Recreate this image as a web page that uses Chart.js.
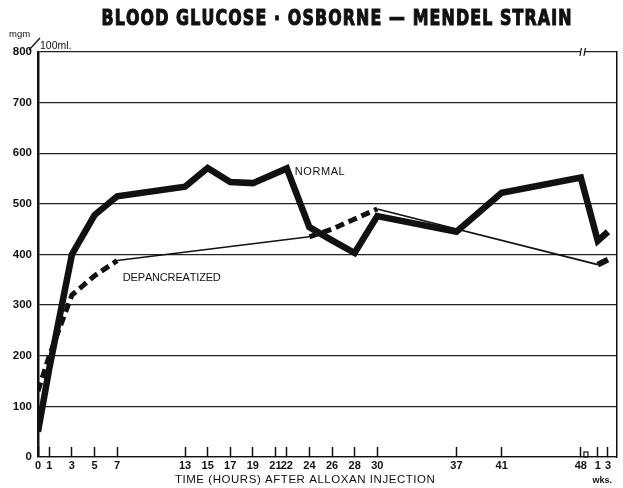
<!DOCTYPE html>
<html><head><meta charset="utf-8">
<script src="https://cdn.jsdelivr.net/npm/chart.js@4.4.1/dist/chart.umd.min.js"></script>
<style>html,body{margin:0;padding:0;background:#fff}#wrap{width:623px;height:488px}</style>
</head><body><div id="wrap"><canvas id="c" width="623" height="488"></canvas></div>
<script>
// ---------------- data ----------------
const chartTitle = 'BLOOD GLUCOSE · OSBORNE — MENDEL STRAIN';
const xAxisTitle = 'TIME (HOURS) AFTER ALLOXAN INJECTION';
const yUnitTop = 'mgm';
const yUnitBottom = '100ml.';
const weeksLabel = 'wks.';
const seriesNames = ['NORMAL', 'DEPANCREATIZED'];

const xTickLabels = ['0','1','3','5','7','13','15','17','19','21','22','24','26','28','30','37','41','48','1 wk','3 wk'];
const yTickValues = [0,100,200,300,400,500,600,700,800];

const normalTimes  = ['0','1','3','5','7','13','15','17','19','22','24','26','28','30','37','41','48','1 wk','3 wk'];
const normalValues = [50,175,400,478,515,534,571,543,541,570,454,428,403,476,445,522,552,427,445];

const depTimes  = ['0','1','3','5','7','24','26','28','30','1 wk','3 wk'];
const depValues = [130,200,320,358,388,435,450,470,490,380,390];

// ---------------- axis mapping (hours, then weeks after the axis break) ----------------
const WEEK_POS = {'1 wk': 49.5, '3 wk': 50.4};
const X_MAX = 51.2;
function axisPos(t){ return (t in WEEK_POS) ? WEEK_POS[t] : Number(t); }
function toPoints(times, values){ return times.map((t,i)=>({x: axisPos(t), y: values[i]})); }

// depancreatized line style per segment
const depSegmentKind = ['dash','dash','dash','dash','thin','dash','dash','dash','thin','solid'];
const segWidth = {dash: 5, thin: 1.6, solid: 6};

const INK = '#111';

function spacedText(ctx, text, cx, cy, targetW, sx, strokeW){
  const chars = [...text];
  const ws = chars.map(c => ctx.measureText(c).width * sx);
  const nat = ws.reduce((a,b)=>a+b,0);
  const extra = chars.length > 1 ? (targetW - nat)/(chars.length-1) : 0;
  let x = cx - targetW/2;
  ctx.textAlign = 'left';
  chars.forEach((c,i)=>{
    ctx.save(); ctx.translate(x, cy); ctx.scale(sx,1);
    ctx.fillText(c,0,0);
    if (strokeW) { ctx.lineWidth = strokeW; ctx.strokeText(c,0,0); }
    ctx.restore();
    x += ws[i] + extra;
  });
}

const decor = {
  id: 'decor',
  afterDraw(chart){
    const ctx = chart.ctx, xs = chart.scales.x, ys = chart.scales.y;
    ctx.save();
    ctx.fillStyle = INK; ctx.strokeStyle = INK; ctx.textBaseline = 'middle';
    // title
    ctx.font = '900 22px "DejaVu Sans"';
    spacedText(ctx, chartTitle, xs.getPixelForValue(26.4), 19, 470, 0.72, 1.2);
    // x axis title
    ctx.font = '11.5px "Liberation Sans"';
    spacedText(ctx, xAxisTitle, xs.getPixelForValue(23.6), 480, 260, 1);
    // wks.
    ctx.font = 'bold 9px "Liberation Sans"';
    ctx.textAlign = 'center';
    ctx.fillText(weeksLabel, xs.getPixelForValue(49.9), 481);
    // y unit
    const top = ys.getPixelForValue(800);
    ctx.font = '9.5px "Liberation Sans"';
    ctx.textAlign = 'left';
    ctx.fillText(yUnitTop, 9, top - 18);
    ctx.font = '10.5px "Liberation Sans"';
    ctx.fillText(yUnitBottom, 40, top - 6);
    ctx.lineWidth = 1.3;
    ctx.beginPath(); ctx.moveTo(29, top - 2); ctx.lineTo(40, top - 14); ctx.stroke();
    // series labels
    ctx.font = '11px "Liberation Sans"';
    spacedText(ctx, seriesNames[0], xs.getPixelForValue(22.7) + 25, ys.getPixelForValue(563), 50, 1);
    spacedText(ctx, seriesNames[1], xs.getPixelForValue(7.5) + 49, ys.getPixelForValue(354), 98, 1);
    // axis break marks
    const bx = xs.getPixelForValue(48.1);
    ctx.fillStyle = '#fff';
    ctx.fillRect(bx - 1, top - 3, 4, 6);
    ctx.lineWidth = 1.2;
    ctx.beginPath();
    ctx.moveTo(bx - 2, top + 4); ctx.lineTo(bx - 0.5, top - 4);
    ctx.moveTo(bx + 2, top + 4); ctx.lineTo(bx + 3.5, top - 4);
    ctx.stroke();
    const bot = ys.getPixelForValue(0);
    ctx.strokeRect(bx + 2, bot - 5, 4, 5);
    ctx.restore();
  }
};

new Chart(document.getElementById('c'), {
  type: 'line',
  data: {
    datasets: [
      {
        label: seriesNames[1],
        data: toPoints(depTimes, depValues),
        borderColor: INK, borderWidth: 5, pointRadius: 0, tension: 0,
        borderJoinStyle: 'miter',
        segment: {
          borderWidth: c => segWidth[depSegmentKind[c.p0DataIndex]],
          borderDash: c => depSegmentKind[c.p0DataIndex] === 'dash' ? [9,5] : []
        }
      },
      {
        label: seriesNames[0],
        data: toPoints(normalTimes, normalValues),
        borderColor: INK, borderWidth: 6.5, pointRadius: 0, tension: 0,
        borderJoinStyle: 'miter'
      }
    ]
  },
  options: {
    responsive: false, animation: false, devicePixelRatio: 1,
    layout: {padding: {top: 52, right: 0, left: 0, bottom: 0}},
    plugins: {legend: {display: false}, tooltip: {enabled: false}, title: {display: false}},
    scales: {
      x: {
        type: 'linear', min: 0, max: X_MAX,
        afterBuildTicks: s => { s.ticks = xTickLabels.map(t => ({value: axisPos(t)})); },
        afterFit: s => { s.height = 31; },
        ticks: {
          autoSkip: false, maxRotation: 0, padding: 12, color: INK,
          font: {family: 'Liberation Sans', weight: 'bold', size: 11},
          callback: (v, i) => xTickLabels[i].split(' ')[0]
        },
        grid: {drawOnChartArea: false, drawTicks: true, tickLength: -10, tickColor: INK, tickWidth: 1.5},
        border: {display: true, color: INK, width: 1.2}
      },
      y: {
        min: 0, max: 800,
        afterBuildTicks: s => { s.ticks = yTickValues.map(v => ({value: v})); },
        afterFit: s => { s.width = 38; },
        ticks: {padding: 6, color: INK, font: {family: 'Liberation Sans', weight: 'bold', size: 11.5}},
        grid: {color: '#222', lineWidth: 1.3, drawTicks: false},
        border: {display: true, color: INK, width: 2.5}
      },
      y2: {
        position: 'right', min: 0, max: 800,
        afterFit: s => { s.width = 0; },
        ticks: {display: false},
        grid: {drawOnChartArea: false, drawTicks: false},
        border: {display: true, color: INK, width: 1.5}
      }
    }
  },
  plugins: [decor]
});
</script>
</body></html>
